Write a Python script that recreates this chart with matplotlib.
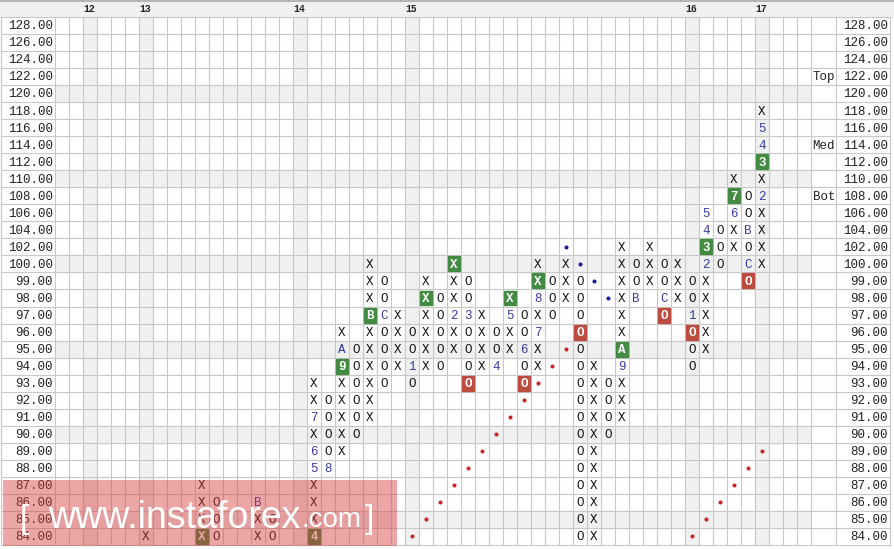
import matplotlib.pyplot as plt
from matplotlib.patches import Rectangle

# price rows, top to bottom (box 2 above 100, box 1 below)
prices = [128, 126, 124, 122, 120, 118, 116, 114, 112, 110, 108, 106, 104, 102, 100,
          99, 98, 97, 96, 95, 94, 93, 92, 91, 90, 89, 88, 87, 86, 85, 84]
shaded_prices = [120, 110, 100, 95, 90, 85]

# year marker columns
year_cols = [2, 6, 17, 25, 45, 50]
year_labels = ['12', '13', '14', '15', '16', '17']

# (column, lowest price, boxes going up)
pf_columns = [
    (6, 84, "X"),
    (10, 84, "XXXX"),
    (11, 84, "OOO"),
    (14, 84, "XXB"),
    (15, 84, "OO"),
    (18, 84, "4XXX56X7XX"),
    (19, 88, "8OOOO"),
    (20, 89, "XXXXX9AX"),
    (21, 90, "OOOOOO"),
    (22, 91, "XXXXXXBXXX"),
    (23, 93, "OOOOCOO"),
    (24, 94, "XXXX"),
    (25, 93, "O1OO"),
    (26, 94, "XXXXXX"),
    (27, 94, "OOOOO"),
    (28, 95, "XX2XXX"),
    (29, 93, "OOOO3OO"),
    (30, 94, "XXXX"),
    (31, 94, "4OO"),
    (32, 95, "XX5X"),
    (33, 93, "OO6OO"),
    (34, 94, "XX7X8XX"),
    (35, 97, "OOO"),
    (36, 98, "XXX"),
    (37, 84, "OOOOOOOOOOOOOOOO"),
    (38, 84, "XXXXXXXXXXX"),
    (39, 90, "OOOO"),
    (40, 91, "XXX9AXXXXXX"),
    (41, 98, "BOO"),
    (42, 99, "XXX"),
    (43, 97, "OCOO"),
    (44, 98, "XXX"),
    (45, 94, "OOO1OO"),
    (46, 95, "XXXXX2345"),
    (47, 100, "OOO"),
    (48, 102, "XX67X"),
    (49, 99, "OCOBOO"),
    (50, 100, "XXXX2X345X"),
]

green_boxes = [(10, 84), (18, 84), (20, 94), (22, 97), (26, 98), (28, 100), (32, 98),
               (34, 99), (40, 95), (46, 102), (48, 108), (50, 112)]
red_boxes = [(29, 93), (33, 93), (37, 96), (43, 97), (45, 96), (49, 99)]

blue_dots = [(36, 102), (37, 100), (38, 99), (39, 98)]
red_dots = [(25, 84), (26, 85), (27, 86), (28, 87), (29, 88), (30, 89), (31, 90),
            (32, 91), (33, 92), (34, 93), (35, 94), (36, 95),
            (45, 84), (46, 85), (47, 86), (48, 87), (49, 88), (50, 89)]

side_labels = {122: 'Top', 114: 'Med', 108: 'Bot'}

n_cols = 54
row_of = {p: i for i, p in enumerate(prices)}
n_rows = len(prices)

W, H = 894, 549
x0, cw = 55, 14.0
y0, rh = 17, 17.03

def px(x):
    return (x - x0) / cw

def py(y):
    return (y - y0) / rh

fig = plt.figure(figsize=(W / 100, H / 100), dpi=100)
ax = fig.add_axes([0, 0, 1, 1])
ax.set_xlim(px(0), px(W))
ax.set_ylim(py(H), py(0))
ax.axis('off')

mono = 'Liberation Mono'
grid_c = '#c8c8c8'
shade_c = '#f0f0f0'

# header band
ax.add_patch(Rectangle((px(0), py(1)), px(W) - px(0), py(y0) - py(1), color=shade_c, zorder=0))
ax.plot([px(0), px(W)], [py(1), py(1)], color='#a8a8a8', lw=1.2, zorder=1)
for c, lab in zip(year_cols, year_labels):
    ax.text(c + 0.45, py(8.5), lab, ha='center', va='center', fontsize=7,
            fontweight='bold', family=mono, color='#222222')

# shading
for p in shaded_prices:
    ax.add_patch(Rectangle((0, row_of[p]), n_cols, 1, color=shade_c, zorder=0))
for c in year_cols:
    ax.add_patch(Rectangle((c, 0), 1, n_rows, color=shade_c, zorder=0))

# grid
right_col = px(836)
right_edge = px(890)
for k in range(n_rows + 1):
    ax.plot([px(1), right_edge], [k, k], color=grid_c, lw=0.8, zorder=1)
for c in range(n_cols + 1):
    ax.plot([c, c], [0, n_rows], color=grid_c, lw=0.8, zorder=1)
for xx in [px(1), right_col, right_edge]:
    ax.plot([xx, xx], [0, n_rows], color=grid_c, lw=0.8, zorder=1)

# price labels
for p in prices:
    r = row_of[p] + 0.55
    ax.text(px(53), r, '%.2f' % p, ha='right', va='center', fontsize=9, family=mono, color='#222222')
    ax.text(px(888), r, '%.2f' % p, ha='right', va='center', fontsize=9, family=mono, color='#222222')
for p, lab in side_labels.items():
    ax.text(px(835), row_of[p] + 0.55, lab, ha='right', va='center', fontsize=9,
            family=mono, color='#222222')

# boxes
green_set = set(green_boxes)
red_set = set(red_boxes)
for c, p in green_boxes:
    ax.add_patch(Rectangle((c + 0.07, row_of[p] + 0.06), 0.86, 0.88, color='#438a43', zorder=2))
for c, p in red_boxes:
    ax.add_patch(Rectangle((c + 0.07, row_of[p] + 0.06), 0.86, 0.88, color='#bd4b3f', zorder=2))

# X / O columns
for c, start, marks in pf_columns:
    r0 = row_of[start]
    for j, ch in enumerate(marks):
        r = r0 - j
        p = prices[r]
        if (c, p) in green_set or (c, p) in red_set:
            ax.text(c + 0.5, r + 0.55, ch, ha='center', va='center', fontsize=9,
                    fontweight='bold', family=mono, color='white', zorder=3)
        elif ch in 'XO':
            ax.text(c + 0.5, r + 0.55, ch, ha='center', va='center', fontsize=9,
                    family=mono, color='#111111', zorder=3)
        else:
            ax.text(c + 0.5, r + 0.55, ch, ha='center', va='center', fontsize=9,
                    family=mono, color='#3a3aa0', zorder=3)

# trend dots
ax.plot([c + 0.5 for c, p in blue_dots], [row_of[p] + 0.5 for c, p in blue_dots], 'o',
        ms=1.9, color='#1a1a9a', ls='none', zorder=3)
ax.plot([c + 0.5 for c, p in red_dots], [row_of[p] + 0.5 for c, p in red_dots], 'o',
        ms=1.9, color='#d02020', ls='none', zorder=3)

# watermark
ax.add_patch(Rectangle((px(3), py(480)), px(397) - px(3), py(546) - py(480),
                       color='#d93a3a', alpha=0.45, lw=0, zorder=5))
wm = dict(color='white', family='Liberation Sans', va='baseline', zorder=6)
ax.text(px(20), py(528), '[', fontsize=24, **wm)
ax.text(px(48), py(528), 'www.instaforex', fontsize=27, **wm)
ax.text(px(302), py(527), '.com', fontsize=20, **wm)
ax.text(px(365), py(528), ']', fontsize=24, **wm)

fig.savefig('out.png', dpi=100)
